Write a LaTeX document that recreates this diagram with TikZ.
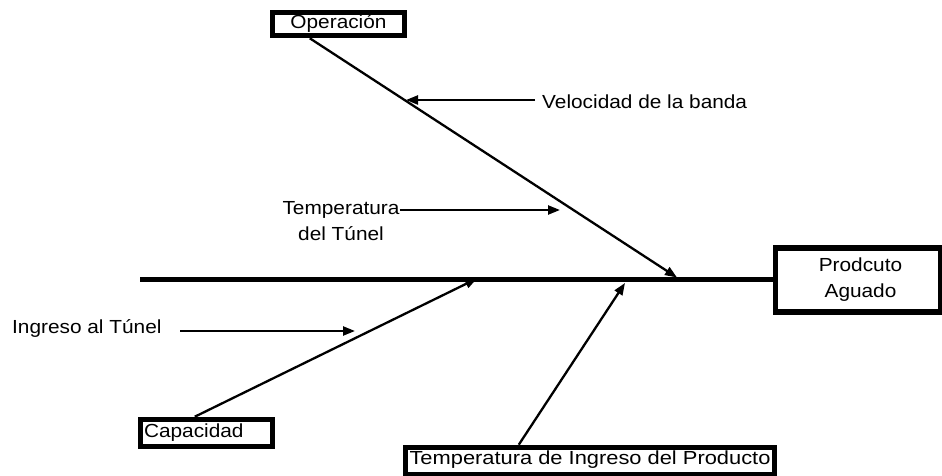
\documentclass[tikz,border=0pt]{standalone}
\usepackage{fontspec}
\setmainfont{Liberation Sans}[FakeStretch=1.1]
\usetikzlibrary{arrows.meta,calc}
\tikzset{
  txt/.style={inner sep=0pt, font=\fontsize{19}{26}\selectfont},
  box/.style={draw=black, line width=5.5bp, fill=white, inner sep=0pt, font=\fontsize{19}{26}\selectfont},
  onel/.style={text height=13.8bp, text depth=4bp},
  bone/.style={line width=2.3bp, -{Triangle[length=12bp,width=9bp]}},
  spine/.style={line width=5bp}
}
\begin{document}
\begin{tikzpicture}[x=1bp,y=-1bp]
\useasboundingbox (0,0) rectangle (942,476);
% boxes
\node[box, onel, minimum width=132bp, minimum height=23bp] (op) at (338.5,24) {Operación};
\node[box, minimum width=165bp, minimum height=64bp, align=center] (pa) at (858,280) {\hspace*{5bp}Prodcuto\\\hspace*{5bp}Aguado};
\node[box, onel, minimum height=27bp, text width=125bp, inner xsep=3.5bp, align=left] (cap) at (206.5,433) {Capacidad};
\node[box, onel, minimum width=369bp, minimum height=27bp] (tip) at (590,461) {\raisebox{1.5bp}{\scalebox{1.05}[1]{Temperatura de Ingreso del Producto}}};
% labels
\node[txt, anchor=base west] (vel) at (542,108.5) {Velocidad de la banda};
\node[txt, align=center] (tt) at (341,221.5) {Temperatura\\del Túnel};
\node[txt, anchor=base west] (ing) at (12,334) {Ingreso al Túnel};
% coordinates
\coordinate (sp) at (140,280);
\coordinate (t1) at (677,277.5);
\coordinate (t2) at (477,278.5);
\coordinate (t3) at (625,283);
\coordinate (tv) at (406,100);
\coordinate (ttt) at (560,210);
\coordinate (ia) at (180,331);
\coordinate (ib) at (355,331);
% spine
\draw[spine] (sp) -- (pa.west);
% bones
\draw[bone] ($(op.south west)+(40,0)$) -- (t1);
\draw[bone] ($(cap.north west)+(57,0)$) -- (t2);
\draw[bone] ($(tip.north west)+(116,0)$) -- (t3);
% small causes
\draw[bone] ($(vel.west |- tv)+(-7,0)$) -- (tv);
\draw[bone] (tt.east |- ttt) -- (ttt);
\draw[bone] (ia) -- (ib);
\end{tikzpicture}
\end{document}
